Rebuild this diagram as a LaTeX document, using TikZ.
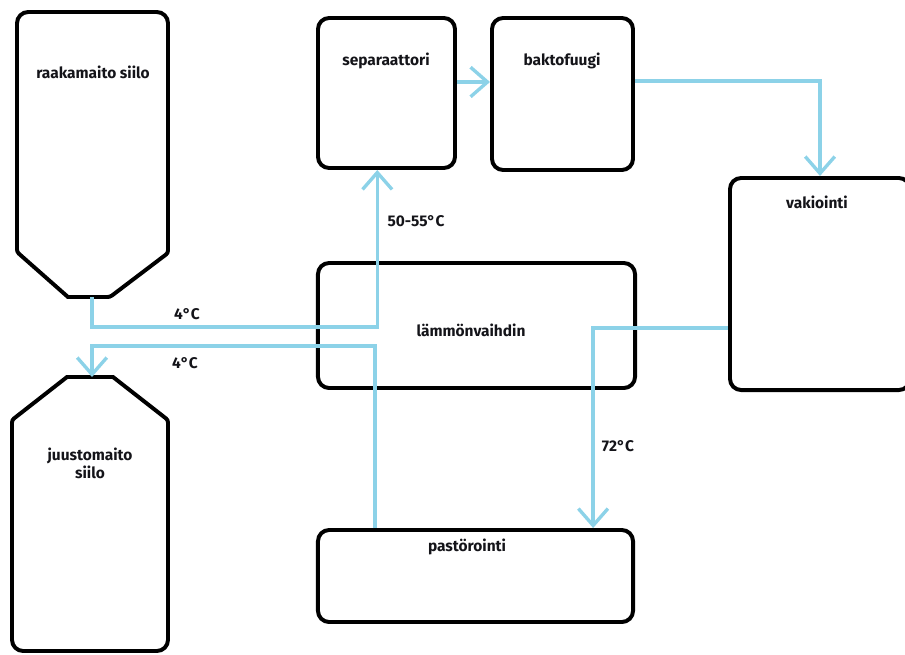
\documentclass[tikz,border=0pt]{standalone}
\usepackage{fontspec}
\setmainfont{Fira Sans}
\usepackage{tikz}
\usetikzlibrary{arrows.meta, positioning, calc}
\definecolor{flowblue}{RGB}{140,210,232}
\definecolor{mydark}{RGB}{20,20,25}
\tikzset{
  unit/.style={rectangle, draw=black, line width=2.8pt,
    rounded corners=0.28cm, inner sep=0pt},
  silo/.style={draw=black, line width=2.8pt},
  lbl/.style={font=\fontsize{11}{13}\selectfont\bfseries, text=mydark,
    inner sep=1pt, align=center},
  flow/.style={-{Straight Barb[length=12pt,width=21pt]}, line width=2.4pt,
    draw=flowblue}
}
\begin{document}
\begin{tikzpicture}[x=0.025cm, y=-0.025cm]
  \useasboundingbox (0,0) rectangle (905,654);
  \clip (0,0) rectangle (905,654);

  % Silos
  \draw[silo] (68,297) [rounded corners=0.06cm] -- (17,252)
    [rounded corners=0.28cm] -- (17,12) -- (168,12)
    [rounded corners=0.06cm] -- (168,253) -- (110,297) [sharp corners] -- cycle;
  \coordinate (rawout) at (92,297);
  \node[lbl] (rawtxt) at (93,72) {raakamaito siilo};

  \draw[silo] (67,377) -- (113,377) [rounded corners=0.06cm] -- (168,420)
    [rounded corners=0.28cm] -- (168,651) -- (12,651)
    [rounded corners=0.06cm] -- (12,420) [sharp corners] -- cycle;
  \coordinate (cheesein) at (92,377);
  \node[lbl] (cheesetxt) at (90,463) {juustomaito\\siilo};

  % Process units
  \node[unit, minimum width=3.425cm, minimum height=3.75cm] (sep) at (386.5,93) {};
  \node[unit, minimum width=3.525cm, minimum height=3.8cm] (bakt) at (562.5,94) {};
  \node[unit, minimum width=4.5cm, minimum height=5.3cm] (vak) at (820,284) {};
  \node[unit, minimum width=7.925cm, minimum height=3.125cm] (hx) at (476.5,325.5) {};
  \node[unit, minimum width=7.875cm, minimum height=2.3cm] (past) at (475.5,576) {};

  \node[lbl] (septxt) at (386,61) {separaattori};
  \node[lbl] (bakttxt) at (562,61) {baktofuugi};
  \node[lbl] (vaktxt) at (817,202) {vakiointi};
  \node[lbl] (hxtxt) at (471,330) {lämmönvaihdin};
  \node[lbl] (pasttxt) at (467,547) {pastörointi};

  % Raw milk to separator
  \draw[flow] (rawout) -- ++(0,30) -| ([xshift=-0.23cm]sep.south);
  \node[lbl] (t1) at (187,314) {4°C};
  \node[lbl] (t2) at (416,221) {50-55°C};

  % Separator to bactofuge to standardisation
  \draw[flow] ([yshift=0.275cm]sep.east) -- ([yshift=0.275cm]sep.east -| bakt.west);
  \draw[flow] ([yshift=0.325cm]bakt.east) -| (vak.north);

  % Standardisation to pasteuriser
  \draw[flow] ([yshift=-1.1cm]vak.west) -| ([xshift=2.94cm]past.north);
  \node[lbl] (t3) at (618,446) {72°C};

  % Pasteurised milk to cheese milk silo
  \draw[flow] ([xshift=-2.51cm]past.north) -- ++(0,-182) -| (cheesein);
  \node[lbl] (t4) at (185,363) {4°C};
\end{tikzpicture}
\end{document}
